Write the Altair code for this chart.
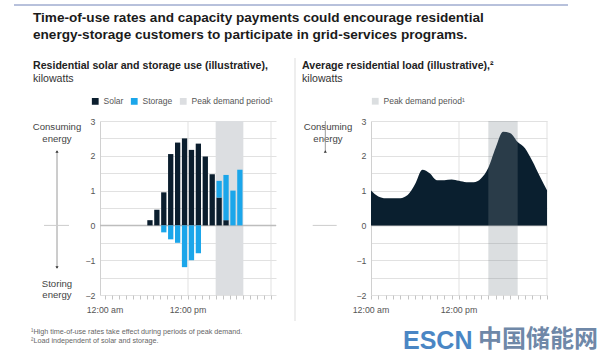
import altair as alt
import pandas as pd

# ---------------- data ----------------
bar_hours = [6, 7, 8, 9, 10, 11, 12, 13, 14, 15, 16, 17, 18, 19]
solar_kw = [0.15, 0.45, 0.95, 2.05, 2.38, 2.5, 2.17, 2.35, 1.98, 1.47, 0.8, 0.15, 0.0, 0.0]
storage_kw = [0.0, 0.0, -0.2, -0.4, -0.5, -1.2, -1.0, -0.8, 0.0, 0.0, 0.48, 1.3, 1.0, 1.6]

load_hours = list(range(25))
load_kw = [1.0, 0.83, 0.78, 0.78, 0.78, 0.87, 1.18, 1.6, 1.5, 1.3, 1.3, 1.32, 1.28,
           1.24, 1.24, 1.35, 1.66, 2.23, 2.69, 2.65, 2.4, 2.22, 1.85, 1.42, 1.01]

peak_start = [16]
peak_end = [20]
peak_label = ["Peak demand period\u00b9"]
series_names = ["Solar", "Storage"]

x_tick_hours = list(range(25))
x_label_hours = [0, 12]
x_label_text = ["12:00 am", "12:00 pm"]
x_grid_hours = [12, 24]
y_grid_vals = [-2, -1.5, -1, -0.5, 0, 0.5, 1, 1.5, 2, 2.5, 3]

title_lines = ["Time-of-use rates and capacity payments could encourage residential",
               "energy-storage customers to participate in grid-services programs."]
left_sub = "Residential solar and storage use (illustrative),"
right_sub = "Average residential load (illustrative),\u00b2"
unit = "kilowatts"
footnotes = ["\u00b9High time-of-use rates take effect during periods of peak demand.",
             "\u00b2Load independent of solar and storage."]

# ---------------- style ----------------
FONT = "Liberation Sans"
W, H = 176, 174
C_SOLAR, C_STORAGE, C_PEAK = "#0b1e2e", "#1ba6ea", "#dcdee1"
LBL = "#555555"
GRID = "#e1e1e1"
XLAB_SIZE = 8.8

rows = []
for h, s, st in zip(bar_hours, solar_kw, storage_kw):
    if s != 0:
        rows.append({"hour": h, "kw": s, "source": series_names[0], "ord": 0})
    if st != 0:
        rows.append({"hour": h, "kw": st, "source": series_names[1], "ord": 1})
bars_df = pd.DataFrame(rows)
load_df = pd.DataFrame({"hour": load_hours, "kw": load_kw})
peak_df = pd.DataFrame({"start": peak_start, "end": peak_end, "label": peak_label})
vgrid_df = pd.DataFrame({"hour": x_grid_hours})
xlab_df = pd.DataFrame({"hour": x_label_hours, "label": x_label_text})
one = pd.DataFrame({"k": [0]})

x_scale = alt.Scale(domain=[0, 24], nice=False, zero=False)
y_scale = alt.Scale(domain=[-2, 3], nice=False, zero=False)

x_axis = alt.Axis(values=x_tick_hours, labels=False, grid=False, domain=False,
                  ticks=True, tickColor="#c4c4c4", tickSize=4, title=None)
y_axis = alt.Axis(values=y_grid_vals,
                  labelExpr="datum.value % 1 === 0 ? (datum.value < 0 ? '\u2212' + abs(datum.value) : '' + datum.value) : ''",
                  grid=True, gridColor=GRID, domain=True, domainColor="#d0d0d0",
                  ticks=False, labelFontSize=8.8, labelColor=LBL, labelFont=FONT,
                  labelPadding=5, title=None, labelOverlap=False)


def X(field):
    return alt.X(field, scale=x_scale, axis=x_axis, title=None)


def Y(field):
    return alt.Y(field, scale=y_scale, axis=y_axis, title=None)


def Yd(v):
    return alt.Y(datum=v, type="quantitative", scale=y_scale, axis=y_axis, title=None)


def txt(t, x, y, size, weight="normal", color="#222222", align="left",
        baseline="alphabetic", font=FONT, lh=None):
    kw = dict(text=t, align=align, baseline=baseline, fontSize=size,
              fontWeight=weight, color=color, font=font)
    if lh is not None:
        kw["lineHeight"] = lh
    return alt.Chart(one).mark_text(**kw).encode(x=alt.value(x), y=alt.value(y))


def hrule(x1, x2, y, color, sw=1.0):
    return alt.Chart(one).mark_rule(color=color, strokeWidth=sw).encode(
        x=alt.value(x1), x2=alt.value(x2), y=alt.value(y))


def vrule(x, y1, y2, color, sw=1.0):
    return alt.Chart(one).mark_rule(color=color, strokeWidth=sw).encode(
        x=alt.value(x), y=alt.value(y1), y2=alt.value(y2))


def head(x, y, shape):
    return alt.Chart(one).mark_point(shape=shape, filled=True, size=10, color="#333333",
                                     opacity=1).encode(x=alt.value(x), y=alt.value(y))


def xlabels():
    # both labels have the same advance width (~4.17 em); left-align and shift back by half
    return alt.Chart(xlab_df).mark_text(
        baseline="middle", align="left", dx=-4.169 * XLAB_SIZE / 2, fontSize=XLAB_SIZE,
        color=LBL, font=FONT).encode(
        x=X("hour:Q"), y=alt.value(H + 15), text="label:N")


# ---------------- left panel ----------------
left_color = alt.Scale(domain=series_names + peak_label, range=[C_SOLAR, C_STORAGE, C_PEAK])
left_legend = alt.Legend(orient="none", legendX=-9, legendY=-24, direction="horizontal",
                         title=None, symbolType="square", symbolSize=46, symbolStrokeWidth=0,
                         labelFont=FONT, labelFontSize=8.5, labelColor=LBL,
                         columnPadding=6, labelOffset=4)

l_peak = alt.Chart(peak_df).mark_rect().encode(
    x=X("start:Q"), x2="end:Q",
    y=Yd(3), y2=alt.Y2(datum=-2),
    color=alt.Color("label:N", scale=left_color, legend=left_legend),
)
l_vgrid = alt.Chart(vgrid_df).mark_rule(color=GRID, strokeWidth=1).encode(
    x=X("hour:Q"))
l_zero = alt.Chart(one).mark_rule(color="#bdbdbd", strokeWidth=1.5).encode(y=Yd(0))
l_bars = alt.Chart(bars_df).transform_calculate(mid="datum.hour + 0.5").mark_bar(
    size=5.3).encode(
    x=X("mid:Q"),
    y=alt.Y("kw:Q", scale=y_scale, axis=y_axis, stack="zero", title=None),
    color=alt.Color("source:N", scale=left_color, legend=left_legend),
    order=alt.Order("ord:Q"),
)

l_annot = [
    txt(["Consuming", "energy"], -43, 5.5, 9.6, color="#444444", align="center",
        baseline="middle", lh=12),
    vrule(-43, 30, 147, "#9a9a9a"),
    head(-43, 30.5, "triangle-up"),
    head(-43, 146.5, "triangle-down"),
    alt.Chart(one).mark_rule(color="#cccccc", strokeWidth=1).encode(
        x=alt.value(-56), x2=alt.value(-31), y=Yd(0)),
    txt(["Storing", "energy"], -43, 162.5, 9.6, color="#444444", align="center",
        baseline="middle", lh=11.5),
]

# global decorations (positioned relative to left plot origin at 99,120)
g_deco = [
    alt.Chart(one).mark_rule(color="white", strokeWidth=0.01).encode(
        x=alt.value(-99), x2=alt.value(-98.8), y=alt.value(-120)),
    hrule(-86, 468, -116, "#7083b8", 1),
    txt(title_lines[0], -67, -99.3, 13.6, weight="bold", color="#1b1b1b"),
    txt(title_lines[1], -67, -82.5, 13.6, weight="bold", color="#1b1b1b"),
    txt(left_sub, -67, -52.5, 10.6, weight="bold", color="#222222"),
    txt(unit, -67, -39.5, 10.6, color="#333333"),
    txt(right_sub, 202, -52.5, 10.6, weight="bold", color="#222222"),
    txt(unit, 202, -39.5, 10.6, color="#333333"),
    vrule(195, -63, 200, "#dddddd"),
    txt(footnotes[0], -69, 212.5, 7.2, color="#666666"),
    txt(footnotes[1], -69, 221.5, 7.2, color="#666666"),
    txt("ESCN", 303, 228, 25, weight="bold", color="#4a86c4"),
    txt("\u4e2d\u56fd\u50a8\u80fd\u7f51", 378, 226, 24, weight="bold", color="#6f88a8",
        font="Noto Sans CJK SC"),
]

left = alt.layer(l_peak, l_vgrid, l_zero, l_bars, xlabels(), *l_annot, *g_deco).properties(
    width=W, height=H)

# ---------------- right panel ----------------
right_color = alt.Scale(domain=peak_label, range=["#7f8891"])
right_legend = alt.Legend(orient="none", legendX=0, legendY=-24, direction="horizontal",
                          title=None, symbolType="square", symbolSize=46, symbolStrokeWidth=0,
                          symbolOpacity=0.28, labelFont=FONT, labelFontSize=8.5,
                          labelColor=LBL, labelOffset=4)

r_vgrid = alt.Chart(vgrid_df).mark_rule(color=GRID, strokeWidth=1).encode(
    x=X("hour:Q"))
r_zero = alt.Chart(one).mark_rule(color="#bdbdbd", strokeWidth=1.5).encode(y=Yd(0))
r_area = alt.Chart(load_df).mark_area(color="#0a1f2f", interpolate="monotone").encode(
    x=X("hour:Q"), y=Y("kw:Q"))
r_peak = alt.Chart(peak_df).mark_rect(opacity=0.28).encode(
    x=X("start:Q"), x2="end:Q",
    y=Yd(3), y2=alt.Y2(datum=-2),
    color=alt.Color("label:N", scale=right_color, legend=right_legend),
)
r_annot = [
    txt(["Consuming", "energy"], -43, 5.5, 9.6, color="#444444", align="center",
        baseline="middle", lh=12),
    alt.Chart(one).mark_rule(color="#9a9a9a", strokeWidth=1).encode(
        x=alt.value(-45.7), y=alt.value(30), y2=alt.Y2(datum=0)),
    head(-45.7, 30.5, "triangle-up"),
    alt.Chart(one).mark_rule(color="#cccccc", strokeWidth=1).encode(
        x=alt.value(-58.3), x2=alt.value(-34.3), y=Yd(0)),
]

right = alt.layer(r_vgrid, r_zero, r_area, r_peak, xlabels(), *r_annot).properties(
    width=W, height=H)

chart = alt.hconcat(left, right, spacing=95, bounds="flush").resolve_scale(
    color="independent").properties(padding=0).configure_view(stroke=None)

chart.save("out.html", embed_options={"renderer": "svg", "actions": False})
